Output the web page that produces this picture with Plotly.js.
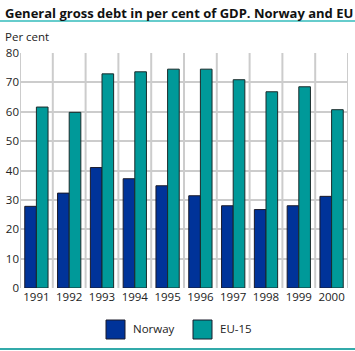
<!DOCTYPE html>
<html><head><meta charset="utf-8">
<script src="https://cdn.plot.ly/plotly-3.0.1.min.js"></script>
<style>html,body{margin:0;padding:0;background:#fff}#c{width:355px;height:351px}</style>
</head><body><div id="c"></div>
<script>
var years = ['1991','1992','1993','1994','1995','1996','1997','1998','1999','2000'];
var norway = [27.8, 32.3, 41.0, 37.2, 34.8, 31.4, 28.0, 26.7, 28.0, 31.2];
var eu15 = [61.6, 59.8, 72.9, 73.6, 74.5, 74.5, 70.9, 66.8, 68.5, 60.7];
var seriesNames = ['Norway', 'EU-15'];
var colors = ['#003399', '#009999'];
var font = 'Open Sans, Liberation Sans, Arial, sans-serif';

// plot area in pixels: x 20..348, y 53..288
var PL = 20, PW = 328, PB = 288, PH = 235;
function px(x){ return (x - PL) / PW; }
function py(y){ return (PB - y) / PH; }

var traces = [
  {type:'bar', x:years, y:norway, name:seriesNames[0], marker:{color:colors[0], line:{color:'#1a1a2a', width:1}}, showlegend:false, hoverinfo:'none'},
  {type:'bar', x:years, y:eu15, name:seriesNames[1], marker:{color:colors[1], line:{color:'#1a2a2a', width:1}}, showlegend:false, hoverinfo:'none'}
];

var layout = {
  width:355, height:351,
  margin:{l:20, r:7, t:53, b:63, pad:0},
  paper_bgcolor:'#fff', plot_bgcolor:'#fff',
  barmode:'group', bargap:0.29, bargroupgap:0,
  font:{family:font, size:11, color:'#333'},
  xaxis:{type:'category', range:[-0.5, 9.5], showgrid:false, tickangle:0,
         ticks:'', tickfont:{size:11.5, color:'#222'}, showline:false, zeroline:false, automargin:false},
  yaxis:{range:[0,80], dtick:10, showgrid:true, gridcolor:'#cccccc', gridwidth:2, zeroline:false,
         tickfont:{size:11.5, color:'#222'}, ticks:'', showline:false, automargin:false},
  shapes:[
    {type:'line', xref:'paper', yref:'paper', x0:px(0), x1:px(355), y0:py(21), y1:py(21), line:{color:'#66cccc', width:2}},
    {type:'line', xref:'paper', yref:'paper', x0:px(0), x1:px(355), y0:py(349), y1:py(349), line:{color:'#33aaaa', width:2}}
  ],
  annotations:[
    {text:'<b>General gross debt in per cent of GDP. Norway and EU</b>', xref:'paper', yref:'paper', x:px(3), y:py(13), xanchor:'left', yanchor:'middle', showarrow:false, font:{size:13, color:'#111', family:font}},
    {text:'Per cent', xref:'paper', yref:'paper', x:px(3), y:py(36), xanchor:'left', yanchor:'middle', showarrow:false, font:{size:11.5, color:'#222', family:font}}
  ]
};
// vertical grid lines at category boundaries
for (var k=0;k<=years.length;k++){
  layout.shapes.push({type:'line', xref:'x', yref:'paper', x0:k-0.5, x1:k-0.5, y0:0, y1:1, layer:'below', line:{color:'#cccccc', width:2}});
}
// legend built from series names/colors
var legX = [106, 193];
for (var i=0;i<seriesNames.length;i++){
  var x0 = legX[i];
  layout.shapes.push({type:'rect', xref:'paper', yref:'paper', x0:px(x0), x1:px(x0+19), y0:py(339), y1:py(320),
    fillcolor:colors[i], line:{color:'#1a1a2a', width:1}});
  layout.annotations.push({text:seriesNames[i], xref:'paper', yref:'paper', x:px(x0+25), y:py(328), xanchor:'left', yanchor:'middle', showarrow:false, font:{size:11.5, color:'#222', family:font}});
}
Plotly.newPlot('c', traces, layout, {displayModeBar:false, staticPlot:true});
</script></body></html>
